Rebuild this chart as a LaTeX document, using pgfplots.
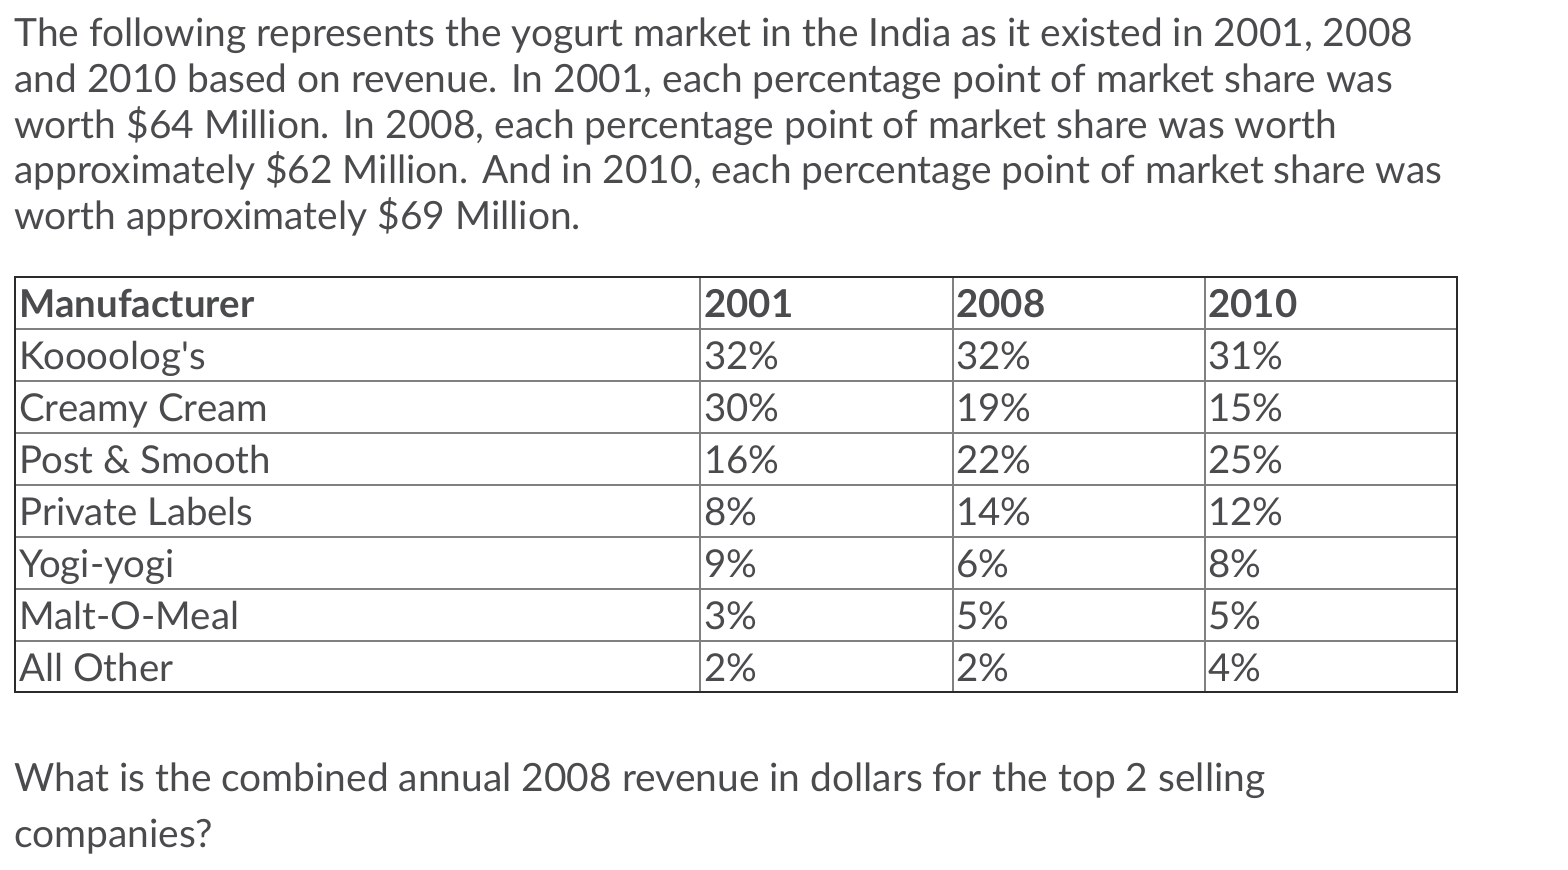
\documentclass[border=0pt]{standalone}
\usepackage{pgfplots}
\usepackage{pgfplotstable}
\pgfplotsset{compat=1.18}
\usepackage{fontspec}
\setmainfont{Lato}
\definecolor{txt}{HTML}{4A4B4D}
\definecolor{rule}{HTML}{808080}
\definecolor{frame}{HTML}{2B2B2B}
\newcommand{\fs}{\fontsize{19.2}{22}\selectfont}
\newcommand{\fp}{\fontsize{19.45}{22}\selectfont}
\tikzset{tx/.style={font=\fs, text=txt, inner sep=0pt, anchor=base west},
         px/.style={font=\fp, text=txt, inner sep=0pt, anchor=base west}}

\pgfplotstableread{
row y2001 y2008 y2010
1 32 32 31
2 30 19 15
3 16 22 25
4 8 14 12
5 9 6 8
6 3 5 5
7 2 2 4
}\sharetable

\begin{document}
\begin{tikzpicture}
\begin{axis}[
  scale only axis, width=784pt, height=435pt,
  xmin=0, xmax=1568, ymin=0, ymax=870, y dir=reverse,
  hide axis, clip=false,
  /pgf/number format/assume math mode=true,
  nodes near coords={\pgfmathprintnumber{\pgfplotspointmeta}\%},
  nodes near coords style={tx},
  point meta=explicit,
]
\path (axis cs:0,0) -- (axis cs:1568,870);
% paragraph
\node[px] at (axis cs:14,47) {The following represents the yogurt market in the India as it existed in 2001, 2008};
\node[px] at (axis cs:14,93) {and 2010 based on revenue. In 2001, each percentage point of market share was};
\node[px] at (axis cs:14,139) {worth \$64 Million. In 2008, each percentage point of market share was worth};
\node[px] at (axis cs:14,184) {approximately \$62 Million. And in 2010, each percentage point of market share was};
\node[px] at (axis cs:14,230) {worth approximately \$69 Million.};
% table rules
\pgfplotsinvokeforeach{329,381,433,485,537,589,641}{
  \draw[rule, line width=1pt] (axis cs:15,#1) -- (axis cs:1457,#1);
}
\pgfplotsinvokeforeach{700,953,1205}{
  \draw[rule, line width=1pt] (axis cs:#1,277) -- (axis cs:#1,692);
}
\draw[frame, line width=1.2pt] (axis cs:15,277) rectangle (axis cs:1457,692);
% headers
\node[tx] at (axis cs:19,318) {\bfseries Manufacturer};
\node[tx] at (axis cs:704,318) {\bfseries 2001};
\node[tx] at (axis cs:956,318) {\bfseries 2008};
\node[tx] at (axis cs:1208,318) {\bfseries 2010};
% names
\node[tx] at (axis cs:19,370) {Koooolog\textquotesingle s};
\node[tx] at (axis cs:19,422) {Creamy Cream};
\node[tx] at (axis cs:19,474) {Post \& Smooth};
\node[tx] at (axis cs:19,526) {Private Labels};
\node[tx] at (axis cs:19,578) {Yogi-yogi};
\node[tx] at (axis cs:19,630) {Malt-O-Meal};
\node[tx] at (axis cs:19,682) {All Other};
% values
\addplot[draw=none, mark=none] table[x expr=704, y expr=318+51.9*\thisrow{row}, meta=y2001] {\sharetable};
\addplot[draw=none, mark=none] table[x expr=956, y expr=318+51.9*\thisrow{row}, meta=y2008] {\sharetable};
\addplot[draw=none, mark=none] table[x expr=1208, y expr=318+51.9*\thisrow{row}, meta=y2010] {\sharetable};
% question
\node[px] at (axis cs:14,791) {What is the combined annual 2008 revenue in dollars for the top 2 selling};
\node[px] at (axis cs:14,847) {companies?};
\end{axis}
\end{tikzpicture}
\end{document}
